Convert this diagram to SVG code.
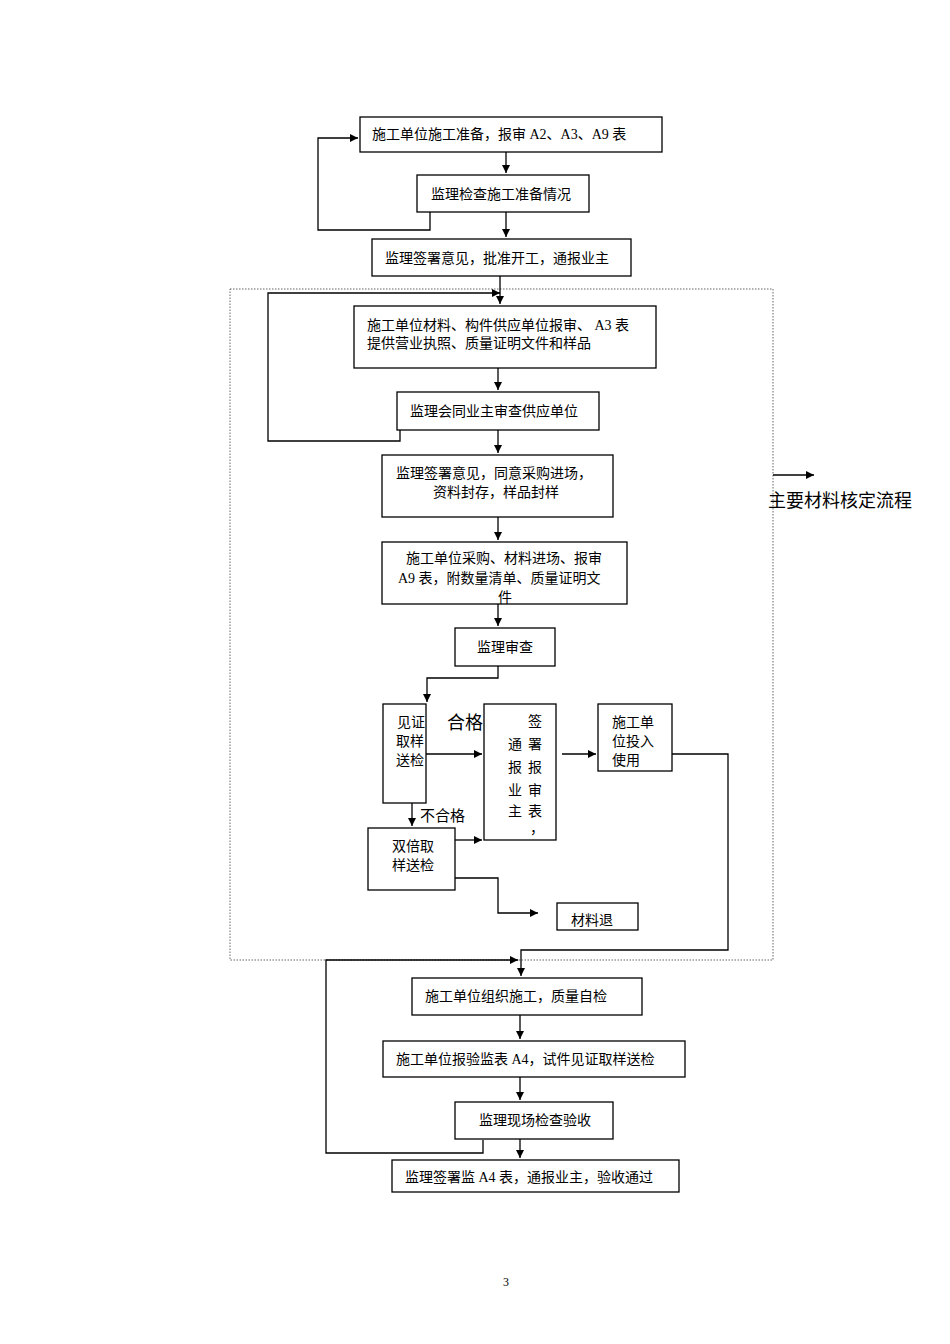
<svg xmlns="http://www.w3.org/2000/svg" width="950" height="1344" viewBox="0 0 950 1344">
<style>
text{font-family:"Liberation Serif","Noto Sans CJK SC",serif;font-size:14px;fill:#000}
.b{fill:#fff;stroke:#000;stroke-width:1.3}
.c{fill:none;stroke:#000;stroke-width:1.3}
.d{fill:none;stroke:#666;stroke-width:1;stroke-dasharray:1.5 1.5}
</style>
<defs><marker id="a" viewBox="0 0 10 10" refX="10" refY="5" markerWidth="8" markerHeight="8" orient="auto" markerUnits="userSpaceOnUse"><path d="M0,0L10,5L0,10z"/></marker></defs>
<rect class="d" x="230" y="289" width="543" height="671"/>
<g id="connectors">
<path class="c" d="M506,152V173" marker-end="url(#a)"/>
<path class="c" d="M506,212V237" marker-end="url(#a)"/>
<path class="c" d="M430,212V230H318V138H358" marker-end="url(#a)"/>
<path class="c" d="M500,276V304" marker-end="url(#a)"/>
<path class="c" d="M498,368V390" marker-end="url(#a)"/>
<path class="c" d="M400,430V441H268V293H500" marker-end="url(#a)"/>
<path class="c" d="M498,430V453" marker-end="url(#a)"/>
<path class="c" d="M498,517V540" marker-end="url(#a)"/>
<path class="c" d="M498,604V626" marker-end="url(#a)"/>
<path class="c" d="M498,666V678H427V702" marker-end="url(#a)"/>
<path class="c" d="M426,754H482" marker-end="url(#a)"/>
<path class="c" d="M412,803V826" marker-end="url(#a)"/>
<path class="c" d="M455,840H482" marker-end="url(#a)"/>
<path class="c" d="M562,754H596" marker-end="url(#a)"/>
<path class="c" d="M455,878H498V913H538" marker-end="url(#a)"/>
<path class="c" d="M672,754H728V950H521V976" marker-end="url(#a)"/>
<path class="c" d="M520,1015V1039" marker-end="url(#a)"/>
<path class="c" d="M520,1077V1100" marker-end="url(#a)"/>
<path class="c" d="M520,1139V1158" marker-end="url(#a)"/>
<path class="c" d="M483,1140V1153H326V960H518" marker-end="url(#a)"/>
<path class="c" d="M773,475H814" marker-end="url(#a)"/>
</g>
<g id="n1"><rect class="b" x="360" y="117" width="302" height="35"/><text x="372" y="139">施工单位施工准备，报审 A2、A3、A9 表</text></g>
<g id="n2"><rect class="b" x="417" y="175" width="172" height="37"/><text x="431" y="199">监理检查施工准备情况</text></g>
<g id="n3"><rect class="b" x="372" y="239" width="259" height="37"/><text x="385" y="263">监理签署意见，批准开工，通报业主</text></g>
<g id="n4"><rect class="b" x="354" y="306" width="302" height="62"/><text x="367" y="330">施工单位材料、构件供应单位报审、 A3 表</text><text x="367" y="348">提供营业执照、质量证明文件和样品</text></g>
<g id="n5"><rect class="b" x="397" y="392" width="202" height="38"/><text x="410" y="416">监理会同业主审查供应单位</text></g>
<g id="n6"><rect class="b" x="382" y="455" width="231" height="62"/><text x="396" y="478">监理签署意见，同意采购进场，</text><text x="433" y="497">资料封存，样品封样</text></g>
<g id="n7"><rect class="b" x="382" y="542" width="245" height="62"/><text x="406" y="563">施工单位采购、材料进场、报审</text><text x="398" y="583">A9 表，附数量清单、质量证明文</text><text x="498" y="602">件</text></g>
<g id="n8"><rect class="b" x="455" y="628" width="100" height="38"/><text x="477" y="652">监理审查</text></g>
<g id="n9"><rect class="b" x="383" y="704" width="43" height="99"/><text x="397" y="727">见证</text><text x="396" y="746">取样</text><text x="396" y="765">送检</text></g>
<text x="447" y="729" style="font-size:18px">合格</text>
<text x="420" y="821" style="font-size:15px">不合格</text>
<g id="n10"><rect class="b" x="484" y="704" width="72" height="136"/><g><text x="528" y="726">签</text><text x="528" y="749">署</text><text x="528" y="772">报</text><text x="528" y="795">审</text><text x="528" y="816">表</text><text x="530" y="833">，</text><text x="508" y="749">通</text><text x="508" y="772">报</text><text x="508" y="795">业</text><text x="508" y="816">主</text></g></g>
<g id="n11"><rect class="b" x="598" y="704" width="74" height="67"/><text x="612" y="727">施工单</text><text x="612" y="746">位投入</text><text x="612" y="765">使用</text></g>
<g id="n12"><rect class="b" x="368" y="828" width="87" height="62"/><text x="392" y="851">双倍取</text><text x="392" y="870">样送检</text></g>
<g id="n13"><rect class="b" x="557" y="903" width="81" height="27"/><text x="571" y="925">材料退</text></g>
<g id="n14"><rect class="b" x="412" y="978" width="230" height="37"/><text x="425" y="1001">施工单位组织施工，质量自检</text></g>
<g id="n15"><rect class="b" x="383" y="1041" width="302" height="36"/><text x="396" y="1064">施工单位报验监表 A4，试件见证取样送检</text></g>
<g id="n16"><rect class="b" x="455" y="1102" width="158" height="37"/><text x="479" y="1125">监理现场检查验收</text></g>
<g id="n17"><rect class="b" x="392" y="1160" width="287" height="32"/><text x="405" y="1182">监理签署监 A4 表，通报业主，验收通过</text></g>
<text x="768" y="507" style="font-size:18px">主要材料核定流程</text>
<text x="503" y="1286" style="font-size:12px">3</text>
</svg>
